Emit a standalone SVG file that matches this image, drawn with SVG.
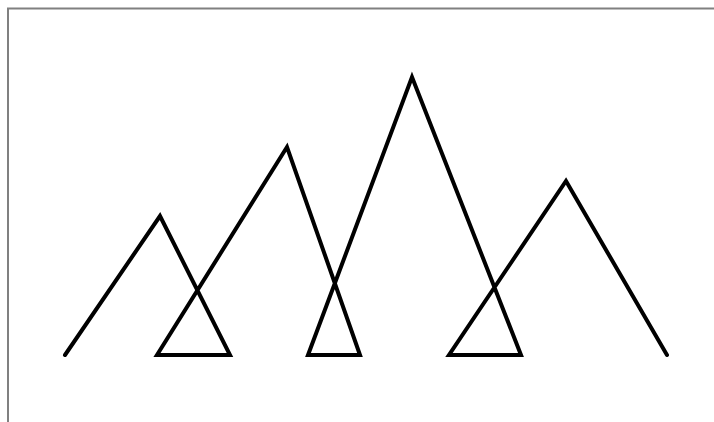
<svg xmlns="http://www.w3.org/2000/svg" width="714" height="422" viewBox="0 0 714 422">
<style>
.frame{fill:none;stroke:#808080;stroke-width:2}
.zig{fill:none;stroke:#000;stroke-width:4;stroke-linejoin:miter;stroke-linecap:round}
</style>
<rect width="714" height="422" fill="#fff"/>
<path class="frame" d="M8,422 V8.5 H714"/>
<g id="connectors">
<polyline class="zig" points="65,355 160,216 230,355 157,355 287,147 360,355 308,355 412,77 521,355 449,355 566,181 667,355"/>
</g>
</svg>
